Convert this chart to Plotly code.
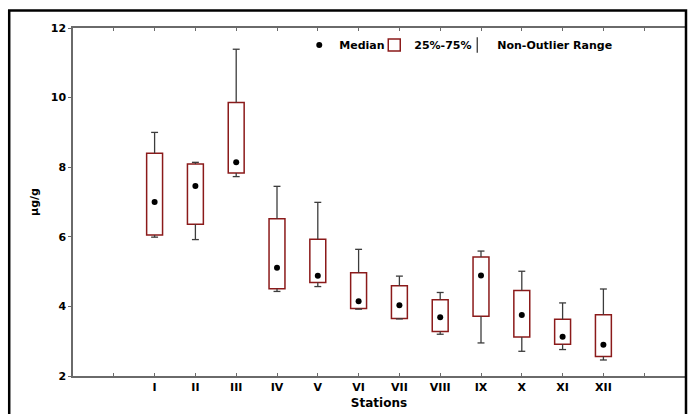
import plotly.graph_objects as go

# ---- data ----
stations = ["I", "II", "III", "IV", "V", "VI", "VII", "VIII", "IX", "X", "XI", "XII"]
median = [7.00, 7.46, 8.14, 5.11, 4.88, 4.15, 4.03, 3.69, 4.89, 3.75, 3.13, 2.90]
q1 = [6.05, 6.36, 7.83, 4.51, 4.69, 3.94, 3.65, 3.28, 3.72, 3.12, 2.91, 2.56]
q3 = [8.40, 8.09, 9.86, 6.52, 5.93, 4.97, 4.59, 4.19, 5.42, 4.46, 3.63, 3.76]
lower = [5.99, 5.92, 7.73, 4.43, 4.57, 3.92, 3.64, 3.20, 2.95, 2.71, 2.76, 2.46]
upper = [9.00, 8.14, 11.39, 7.45, 6.99, 5.64, 4.87, 4.40, 5.59, 5.01, 4.10, 4.50]
y_ticks = [2, 4, 6, 8, 10, 12]

# ---- styles ----
FONT = "DejaVu Sans"
BOX_COLOR = "#8B1A1A"
WHISK_COLOR = "#3c3c3c"
AXIS_COLOR = "#6a6a6a"
BOX_W = 0.39
CAP = 0.085

W, H = 689, 414
ML, MR, MT, MB = 73, 2, 28, 38
PW, PH = W - ML - MR, H - MT - MB

xpos = list(range(1, len(stations) + 1))

# whiskers from data
wx, wy = [], []
for x, a, b, lo, hi in zip(xpos, q1, q3, lower, upper):
    wx += [x, x, None, x - CAP, x + CAP, None, x, x, None, x - CAP, x + CAP, None]
    wy += [b, hi, None, hi, hi, None, a, lo, None, lo, lo, None]

fig = go.Figure()

fig.add_trace(go.Scatter(
    x=xpos, y=median, mode="markers", name="Median",
    marker=dict(color="black", size=6), legendwidth=30,
))
fig.add_trace(go.Bar(
    x=xpos, y=[b - a for a, b in zip(q1, q3)], base=q1, name="25%-75%",
    width=BOX_W, marker=dict(color="white", line=dict(color=BOX_COLOR, width=1.5)),
    legendwidth=38,
))
fig.add_trace(go.Scatter(
    x=wx, y=wy, mode="lines", name="Non-Outlier Range", showlegend=False,
    legendgroup="whisk", line=dict(color=WHISK_COLOR, width=1.3),
))
# legend entry for the whiskers (I-beam-like vertical symbol)
fig.add_trace(go.Scatter(
    x=[None], y=[None], mode="markers", name="Non-Outlier Range",
    legendgroup="whisk",
    marker=dict(symbol="line-ns", size=11, color=WHISK_COLOR,
                line=dict(color=WHISK_COLOR, width=1.3)),
))

fig.update_layout(
    width=W, height=H,
    margin=dict(l=ML, r=MR, t=MT, b=MB, pad=0),
    paper_bgcolor="white", plot_bgcolor="white",
    font=dict(family=FONT, size=11, color="black", weight="bold"),
    showlegend=True,
    legend=dict(
        orientation="h", x=(300 - ML) / PW, xanchor="left",
        y=(H - MB - 45) / PH, yanchor="middle",
        font=dict(family=FONT, size=11, color="black", weight="bold"),
        bgcolor="rgba(0,0,0,0)", itemwidth=30, tracegroupgap=0,
        traceorder="normal",
    ),
    xaxis=dict(
        range=[-1, 14], tickmode="array",
        tickvals=[0] + xpos + [len(stations) + 1],
        ticktext=[""] + stations + [""],
        ticks="inside", ticklen=3, tickwidth=1, tickcolor=AXIS_COLOR,
        showline=True, linecolor=AXIS_COLOR, linewidth=1.5, mirror="ticks",
        showgrid=False, zeroline=False,
        tickfont=dict(family=FONT, size=11, color="black", weight="bold"),
        title=dict(text="Stations", standoff=6,
                   font=dict(family=FONT, size=12, color="black", weight="bold")),
    ),
    yaxis=dict(
        range=[2, 12], tickvals=y_ticks,
        ticks="outside", ticklen=3, tickwidth=1, tickcolor=AXIS_COLOR,
        showline=True, linecolor=AXIS_COLOR, linewidth=1.5, mirror=True,
        showgrid=False, zeroline=False,
        tickfont=dict(family=FONT, size=11, color="black", weight="bold"),
        title=dict(text="µg/g", standoff=10,
                   font=dict(family=FONT, size=11, color="black", weight="bold")),
    ),
    yaxis2=dict(
        overlaying="y", side="right", anchor="x", range=[2, 12], tickvals=y_ticks,
        ticks="inside", ticklen=3, tickwidth=1, tickcolor="black",
        showticklabels=False, showgrid=False, zeroline=False, showline=False,
    ),
    shapes=[dict(
        type="rect", xref="paper", yref="paper",
        x0=(9 - ML) / PW, x1=(688 - ML) / PW,
        y0=-0.25, y1=(H - MB - 10.5) / PH,
        line=dict(color="black", width=2.5), layer="above",
    )],
)

fig.write_html("out.html")
